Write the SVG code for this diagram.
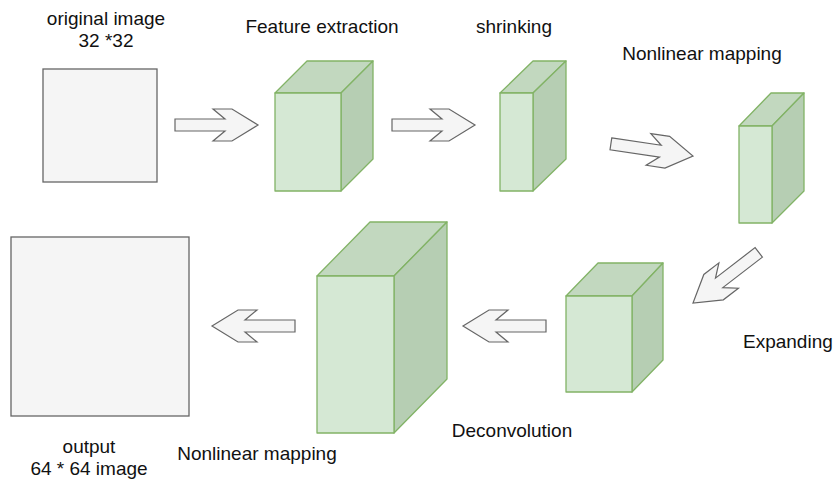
<svg xmlns="http://www.w3.org/2000/svg" width="834" height="483" viewBox="0 0 834 483">
<defs>
<style>
.t{font-family:"Liberation Sans",Arial,sans-serif;font-size:19px;fill:#111}
.c{text-anchor:middle}
.sq{fill:#f5f5f5;stroke:#666;stroke-width:1.3}
.front{fill:#d5e8d4;stroke:#82b366;stroke-width:1.3;stroke-linejoin:round}
.top{fill:#c2d8bf;stroke:#82b366;stroke-width:1.3;stroke-linejoin:round}
.side{fill:#b6ceb3;stroke:#82b366;stroke-width:1.3;stroke-linejoin:round}
.arr{fill:#f5f5f5;stroke:#666;stroke-width:1.2;stroke-linejoin:miter}
</style>
<polygon id="arrowShape" class="arr" points="-83,-6 -33,-6 -45,-16 -26,-16 0,0 -26,16 -45,16 -33,6 -83,6"/>
</defs>
<rect width="834" height="483" fill="#fff"/>

<g id="original">
<rect class="sq" x="43" y="69" width="114" height="113"/>
<text class="t c" x="106" y="25">original image</text>
<text class="t c" x="106" y="47">32 *32</text>
</g>

<g id="feature">
<polygon class="top" points="275,93 307,61 373,61 341,93"/>
<polygon class="side" points="341,93 373,61 373,159 341,191"/>
<rect class="front" x="275" y="93" width="66" height="98"/>
<text class="t c" x="322" y="33">Feature extraction</text>
</g>

<g id="shrinking">
<polygon class="top" points="500,93 533,61 566,61 533,93"/>
<polygon class="side" points="533,93 566,61 566,159 533,191"/>
<rect class="front" x="500" y="93" width="33" height="98"/>
<text class="t c" x="514" y="33">shrinking</text>
</g>

<g id="nonlinear1">
<polygon class="top" points="739,126 771,93 804,93 772,126"/>
<polygon class="side" points="772,126 804,93 804,191 772,223"/>
<rect class="front" x="739" y="126" width="33" height="97"/>
<text class="t c" x="702" y="60">Nonlinear mapping</text>
</g>

<g id="expanding">
<polygon class="top" points="566,296 598,263 663,263 632,296"/>
<polygon class="side" points="632,296 663,263 663,360 632,392"/>
<rect class="front" x="566" y="296" width="66" height="96"/>
<text class="t" x="743" y="348">Expanding</text>
</g>

<g id="deconvolution">
<polygon class="top" points="317,276 370,222 447,222 394,276"/>
<polygon class="side" points="394,276 447,222 447,379 394,433"/>
<rect class="front" x="317" y="276" width="77" height="157"/>
<text class="t c" x="512" y="437">Deconvolution</text>
<text class="t c" x="257" y="460">Nonlinear mapping</text>
</g>

<g id="output">
<rect class="sq" x="11" y="237" width="178" height="179"/>
<text class="t c" x="89" y="453">output</text>
<text class="t c" x="89" y="475">64 * 64 image</text>
</g>

<g id="connectors">
<use href="#arrowShape" transform="translate(258,125)"/>
<use href="#arrowShape" transform="translate(475,125)"/>
<use href="#arrowShape" transform="translate(693,156) rotate(8.4)"/>
<use href="#arrowShape" transform="translate(693,303) rotate(142.4)"/>
<use href="#arrowShape" transform="translate(463,326) rotate(180)"/>
<use href="#arrowShape" transform="translate(212,326) rotate(180)"/>
</g>
</svg>
